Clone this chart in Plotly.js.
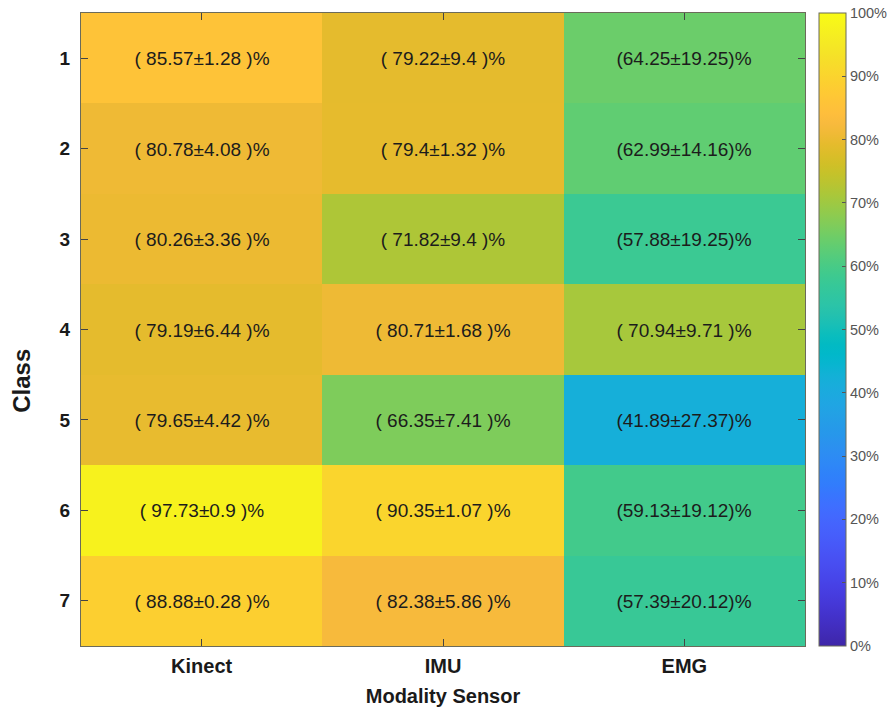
<!DOCTYPE html>
<html>
<head>
<meta charset="utf-8">
<script src="https://cdn.plot.ly/plotly-3.0.1.min.js"></script>
<style>
  html, body { margin: 0; padding: 0; background: #fff; }
  #chart { width: 896px; height: 709px; }
</style>
</head>
<body>
<div id="chart"></div>
<script>
// Recognition accuracy (mean ± std, %) per class and sensor modality
const sensors = ['Kinect', 'IMU', 'EMG'];
const classes = ['1', '2', '3', '4', '5', '6', '7'];

const kinectMean = [85.57, 80.78, 80.26, 79.19, 79.65, 97.73, 88.88];
const kinectStd  = [1.28, 4.08, 3.36, 6.44, 4.42, 0.9, 0.28];
const imuMean    = [79.22, 79.4, 71.82, 80.71, 66.35, 90.35, 82.38];
const imuStd     = [9.4, 1.32, 9.4, 1.68, 7.41, 1.07, 5.86];
const emgMean    = [64.25, 62.99, 57.88, 70.94, 41.89, 59.13, 57.39];
const emgStd     = [19.25, 14.16, 19.25, 9.71, 27.37, 19.12, 20.12];

const colorbarTicks = [0, 10, 20, 30, 40, 50, 60, 70, 80, 90, 100];

// MATLAB-style parula colormap (64 entries)
const parula = [
 [0.2422,0.1504,0.6603],[0.2504,0.1650,0.7076],[0.2578,0.1818,0.7511],[0.2647,0.1978,0.7952],
 [0.2706,0.2147,0.8364],[0.2751,0.2342,0.8710],[0.2783,0.2559,0.8991],[0.2803,0.2782,0.9221],
 [0.2813,0.3006,0.9414],[0.2810,0.3228,0.9579],[0.2795,0.3447,0.9717],[0.2760,0.3667,0.9829],
 [0.2699,0.3892,0.9906],[0.2602,0.4123,0.9952],[0.2440,0.4358,0.9988],[0.2206,0.4603,0.9973],
 [0.1963,0.4847,0.9892],[0.1834,0.5074,0.9798],[0.1786,0.5289,0.9682],[0.1764,0.5499,0.9520],
 [0.1687,0.5703,0.9359],[0.1540,0.5902,0.9218],[0.1460,0.6091,0.9079],[0.1380,0.6276,0.8973],
 [0.1248,0.6459,0.8883],[0.1113,0.6635,0.8763],[0.0952,0.6798,0.8598],[0.0689,0.6948,0.8394],
 [0.0297,0.7082,0.8163],[0.0036,0.7203,0.7917],[0.0067,0.7312,0.7660],[0.0433,0.7411,0.7394],
 [0.0964,0.7500,0.7120],[0.1408,0.7584,0.6842],[0.1717,0.7670,0.6554],[0.1938,0.7758,0.6251],
 [0.2161,0.7843,0.5923],[0.2470,0.7918,0.5567],[0.2906,0.7973,0.5188],[0.3406,0.8008,0.4789],
 [0.3909,0.8029,0.4354],[0.4456,0.8024,0.3909],[0.5044,0.7993,0.3480],[0.5616,0.7942,0.3045],
 [0.6174,0.7876,0.2612],[0.6720,0.7793,0.2227],[0.7242,0.7698,0.1910],[0.7738,0.7598,0.1646],
 [0.8203,0.7498,0.1535],[0.8634,0.7406,0.1596],[0.9035,0.7330,0.1774],[0.9393,0.7288,0.2100],
 [0.9728,0.7298,0.2394],[0.9956,0.7434,0.2371],[0.9970,0.7659,0.2199],[0.9952,0.7893,0.2028],
 [0.9892,0.8136,0.1885],[0.9786,0.8386,0.1766],[0.9676,0.8639,0.1643],[0.9610,0.8890,0.1537],
 [0.9597,0.9135,0.1423],[0.9628,0.9373,0.1265],[0.9691,0.9606,0.1064],[0.9769,0.9839,0.0805]
];
const colorscale = parula.map((c, i) => [
  i / (parula.length - 1),
  'rgb(' + c.map(v => Math.round(v * 255)).join(',') + ')'
]);

const means = [kinectMean, imuMean, emgMean];
const stds = [kinectStd, imuStd, emgStd];

// z[row][col] : rows are classes, columns are sensors
const z = classes.map((_, r) => means.map(m => m[r]));
const labels = classes.map((_, r) => means.map((m, c) => {
  const s = stds[c][r];
  return s < 10 ? '( ' + m[r] + '±' + s + ' )%' : '(' + m[r] + '±' + s + ')%';
}));

const font = 'Liberation Sans, Arial, sans-serif';

const trace = {
  type: 'heatmap',
  x: sensors,
  y: classes,
  z: z,
  text: labels,
  texttemplate: '%{text}',
  textfont: { family: font, size: 19, color: '#1c1c1c' },
  colorscale: colorscale,
  zmin: 0,
  zmax: 100,
  hoverinfo: 'skip',
  colorbar: {
    x: 1.019,
    xanchor: 'left',
    y: 0.5,
    yanchor: 'middle',
    len: 1,
    lenmode: 'fraction',
    thickness: 27,
    thicknessmode: 'pixels',
    outlinewidth: 1,
    outlinecolor: '#6b6b5a',
    tickmode: 'array',
    tickvals: colorbarTicks,
    ticktext: colorbarTicks.map(v => v + '%'),
    ticks: 'inside',
    ticklen: 4,
    tickcolor: '#555',
    ticklabelstandoff: 4,
    tickfont: { family: font, size: 14.5, color: '#555' },
    xpad: 0,
    ypad: 0
  }
};

const layout = {
  width: 896,
  height: 709,
  margin: { l: 81, r: 91, t: 13, b: 63, autoexpand: false },
  paper_bgcolor: '#fff',
  plot_bgcolor: '#fff',
  showlegend: false,
  xaxis: {
    type: 'category',
    showgrid: false,
    zeroline: false,
    showline: true,
    linecolor: '#6b6b5a',
    linewidth: 1,
    mirror: 'ticks',
    ticks: 'inside',
    ticklen: 7,
    tickcolor: '#444',
    ticklabelstandoff: 2,
    tickfont: { family: font, size: 20, color: '#1a1a1a', weight: 'bold' },
    title: { text: '<b>Modality Sensor</b>', font: { family: font, size: 20, color: '#1a1a1a' }, standoff: 12 }
  },
  yaxis: {
    type: 'category',
    autorange: 'reversed',
    showgrid: false,
    zeroline: false,
    showline: true,
    linecolor: '#6b6b5a',
    linewidth: 1,
    mirror: 'ticks',
    ticks: 'inside',
    ticklen: 7,
    tickcolor: '#444',
    ticklabelstandoff: 6,
    tickfont: { family: font, size: 19, color: '#1a1a1a', weight: 'bold' },
    title: { text: '' }
  },
  // y-axis label, set slightly below the middle of the axis
  annotations: [{
    text: '<b>Class</b>',
    xref: 'paper', yref: 'paper',
    x: -0.0815, y: 0.419,
    xanchor: 'center', yanchor: 'middle',
    textangle: -90,
    showarrow: false,
    font: { family: font, size: 24, color: '#1a1a1a' }
  }]
};

Plotly.newPlot('chart', [trace], layout, { displayModeBar: false, staticPlot: true });
</script>
</body>
</html>
